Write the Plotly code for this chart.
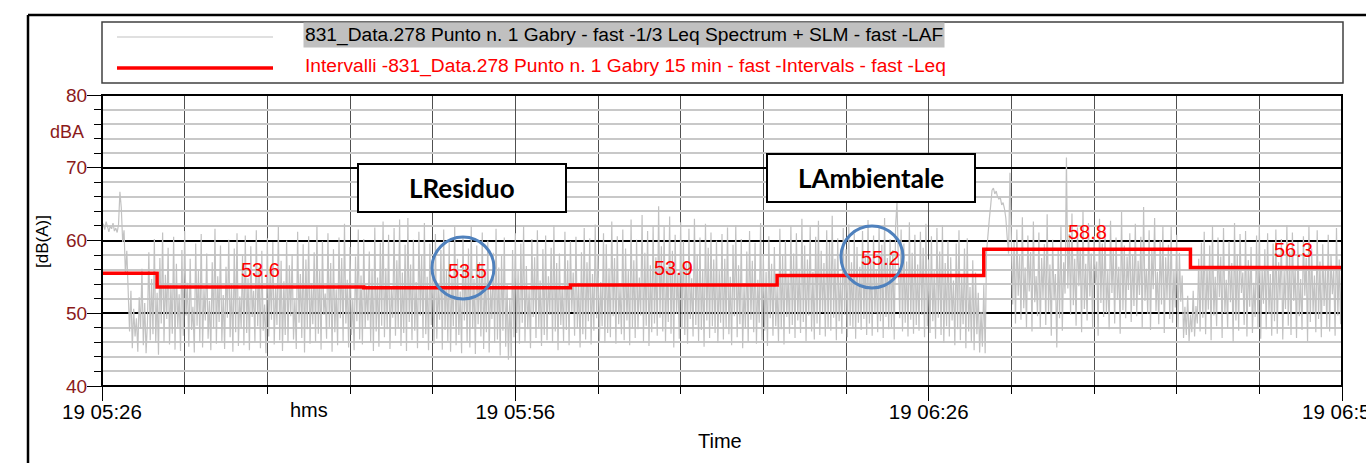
import plotly.graph_objects as go
from datetime import datetime, timedelta

# ---------------- data ----------------
DAY = "2014-05-19"
t_start = datetime(2014, 5, 19, 5, 26, 0)
t_end = datetime(2014, 5, 19, 6, 56, 0)

# LAF trace (6 s sampling, read by eye, one list per 5-minute block)
laf_b01 = [61.8, 62.3, 61.5, 62.6, 61.9, 61.2, 62.0, 61.6, 62.4, 61.3, 61.7, 61.1, 62.2, 66.7, 64.5, 59.8, 61.4, 55.3, 58.6, 52.4,
           47.5, 53.1, 45.2, 50.6, 46.8, 49.3, 44.7, 52.2, 47.9, 56.1, 45.6, 51.4, 44.5, 48.8, 58.4, 46.3, 54.7, 47.1, 60.2, 45.9,
           52.8, 44.3, 57.6, 48.6, 61.1, 46.0, 55.3, 49.2, 59.0, 45.7]
laf_b02 = [53.9, 47.2, 60.5, 45.0, 56.8, 48.1, 52.6, 44.8, 58.7, 46.9, 61.3, 49.7, 54.2, 45.4, 57.5, 47.7, 50.9, 44.6, 59.6, 48.3,
           55.8, 46.1, 60.9, 45.3, 53.4, 49.0, 58.2, 46.5, 51.7, 44.9, 57.0, 47.9, 61.6, 45.8, 55.1, 48.8, 59.3, 46.2, 52.5, 45.1,
           56.4, 49.4, 60.1, 46.7, 54.0, 44.7, 58.9, 47.4, 61.0, 45.5]
laf_b03 = [52.3, 48.0, 57.9, 45.6, 60.7, 47.3, 54.8, 44.9, 59.2, 49.5, 53.1, 46.0, 61.4, 48.2, 56.3, 45.2, 58.6, 47.6, 51.2, 44.5,
           60.3, 46.8, 55.7, 49.1, 59.8, 45.7, 53.6, 48.4, 61.9, 46.3, 57.2, 44.8, 54.4, 47.0, 60.0, 45.9, 56.6, 49.6, 58.1, 46.4,
           52.0, 45.1, 61.2, 48.7, 55.4, 46.6, 59.5, 44.6, 57.4, 47.8]
laf_b04 = [60.6, 45.8, 54.1, 48.5, 58.4, 46.1, 62.1, 47.2, 55.9, 45.0, 59.9, 49.8, 52.7, 46.5, 61.0, 48.1, 56.9, 44.7, 58.8, 47.4,
           53.3, 45.6, 60.4, 49.3, 57.6, 46.2, 62.3, 48.6, 54.6, 45.3, 59.1, 47.0, 51.9, 44.9, 57.8, 48.9, 61.5, 46.4, 55.2, 45.7,
           60.2, 47.9, 53.8, 49.0, 58.5, 46.0, 56.1, 44.8, 61.8, 47.5]
laf_b05 = [54.9, 45.4, 59.7, 48.3, 62.6, 46.7, 56.2, 47.8, 60.8, 45.1, 53.5, 49.4, 61.7, 46.9, 57.3, 48.0, 62.9, 45.5, 55.6, 47.3,
           59.4, 44.8, 63.1, 48.8, 56.7, 46.3, 60.1, 47.6, 54.3, 45.2, 61.2, 49.7, 58.0, 46.6, 62.4, 47.1, 55.0, 44.9, 59.6, 48.4,
           57.1, 45.8, 60.9, 46.5, 53.9, 49.1, 58.7, 45.0, 61.5, 47.7]
laf_b06 = [56.0, 46.2, 59.8, 44.7, 55.2, 48.2, 61.9, 45.6, 57.5, 47.0, 53.0, 44.5, 60.6, 49.0, 56.8, 46.0, 58.9, 45.3, 62.0, 47.9,
           54.7, 44.4, 59.3, 48.5, 57.0, 46.8, 61.1, 45.1, 55.5, 47.4, 60.0, 44.6, 53.6, 49.2, 58.3, 45.9, 61.6, 46.4, 56.3, 44.2,
           57.9, 47.6, 60.4, 45.4, 54.0, 43.6, 52.1, 44.0, 58.7, 46.7]
laf_b07 = [61.0, 47.3, 55.8, 45.8, 59.6, 48.7, 62.0, 46.1, 56.5, 47.8, 53.4, 45.2, 60.2, 49.5, 57.7, 46.6, 61.4, 48.1, 54.5, 45.5,
           58.8, 47.0, 60.7, 46.3, 55.1, 49.8, 59.0, 45.9, 62.1, 47.5, 56.9, 44.9, 58.2, 48.4, 53.8, 46.2, 61.2, 47.7, 57.3, 45.6,
           59.9, 50.2, 55.6, 46.9, 60.5, 48.0, 54.2, 45.3, 58.4, 47.1]
laf_b08 = [61.7, 46.4, 57.0, 48.9, 60.3, 45.7, 55.4, 47.6, 62.2, 49.3, 58.1, 46.0, 54.3, 48.2, 61.0, 45.9, 59.5, 47.3, 56.2, 46.7,
           62.6, 49.6, 57.6, 45.8, 60.6, 48.5, 53.7, 47.1, 61.5, 46.3, 58.9, 49.0, 55.8, 45.6, 62.9, 48.0, 57.3, 46.6, 60.1, 47.8,
           54.9, 49.7, 63.5, 46.1, 58.3, 48.3, 61.3, 45.5, 56.6, 47.4]
laf_b09 = [62.0, 48.6, 57.7, 46.9, 64.7, 49.4, 59.2, 47.5, 61.9, 46.0, 56.4, 48.8, 63.3, 47.2, 58.6, 45.3, 60.8, 49.9, 55.5, 46.5,
           62.5, 48.1, 59.9, 47.0, 57.1, 45.8, 61.6, 49.2, 54.8, 46.8, 63.0, 48.4, 58.0, 46.2, 60.4, 47.7, 56.0, 45.4, 62.3, 49.0,
           59.0, 46.6, 61.1, 48.2, 57.4, 47.3, 60.0, 45.9, 55.9, 48.7]
laf_b10 = [60.9, 46.4, 57.5, 48.0, 61.8, 47.1, 55.0, 45.6, 59.4, 49.6, 62.1, 46.7, 56.6, 48.5, 60.2, 45.2, 53.9, 47.9, 58.5, 46.1,
           61.3, 49.1, 57.2, 47.4, 59.7, 45.8, 54.6, 48.7, 62.4, 46.3, 58.0, 47.6, 55.7, 45.5, 60.6, 49.3, 56.8, 46.9, 59.1, 48.2,
           53.6, 46.0, 61.6, 47.8, 57.9, 45.7, 60.0, 49.5, 55.3, 47.2]
laf_b11 = [62.0, 48.4, 58.2, 46.6, 61.0, 49.0, 56.1, 47.3, 63.0, 48.8, 59.3, 46.2, 57.4, 49.7, 61.9, 47.5, 55.7, 46.4, 60.5, 48.6,
           62.7, 47.0, 58.6, 50.1, 56.9, 46.8, 61.4, 48.1, 59.8, 47.6, 63.4, 49.4, 57.5, 46.3, 60.3, 48.9, 55.2, 47.2, 61.7, 49.8,
           58.8, 46.7, 62.2, 48.3, 57.0, 47.9, 60.9, 46.5, 59.1, 48.7]
laf_b12 = [56.4, 47.7, 61.3, 49.2, 58.1, 47.0, 62.8, 48.6, 57.3, 46.9, 60.7, 50.0, 55.9, 47.4, 61.9, 48.9, 59.4, 46.6, 63.1, 49.5,
           57.6, 47.8, 60.2, 48.1, 58.7, 46.4, 62.0, 65.3, 56.2, 49.3, 61.5, 47.5, 59.6, 48.7, 57.1, 46.8, 62.5, 49.1, 58.3, 47.2,
           60.8, 48.4, 56.7, 47.6, 61.2, 49.8, 59.0, 46.7, 62.3, 48.2]
laf_b13 = [57.4, 47.3, 60.6, 48.9, 55.8, 46.5, 61.7, 49.4, 58.5, 47.0, 62.1, 45.9, 56.9, 48.2, 60.0, 46.8, 57.7, 49.0, 54.5, 45.6,
           59.6, 47.8, 61.4, 46.3, 55.3, 48.5, 58.9, 45.2, 60.3, 47.5, 53.6, 46.1, 57.3, 44.9, 55.6, 47.1, 52.8, 44.6, 50.2, 45.4,
           53.9, 44.5, 58.4, 60.2, 62.9, 64.8, 66.9, 67.2, 66.4, 66.8]
laf_b14 = [66.0, 65.7, 65.9, 64.9, 65.2, 64.4, 63.1, 60.4, 58.2, 69.3, 62.0, 51.2, 59.8, 48.6, 61.5, 52.4, 57.9, 49.1, 63.2, 50.7,
           56.3, 48.0, 60.7, 53.0, 58.4, 47.5, 62.6, 51.5, 55.1, 49.6, 61.1, 47.9, 57.6, 52.1, 59.5, 48.4, 63.6, 50.2, 56.7, 46.9,
           60.1, 51.8, 55.4, 45.3, 58.9, 49.3, 62.1, 47.6, 57.0, 52.7]
laf_b15 = [71.4, 53.4, 60.9, 49.8, 63.7, 51.1, 57.5, 48.3, 61.8, 53.7, 59.0, 47.4, 64.2, 50.6, 56.8, 49.0, 62.4, 52.3, 58.2, 48.1,
           60.6, 54.1, 57.1, 46.9, 63.0, 51.4, 59.6, 49.5, 61.3, 50.0, 55.9, 47.8, 62.7, 52.8, 58.7, 48.6, 60.4, 51.9, 56.4, 47.2,
           63.9, 50.4, 59.3, 49.3, 57.8, 53.2, 61.0, 48.8, 58.0, 51.0]
laf_b16 = [62.3, 49.6, 57.2, 52.5, 60.5, 48.0, 64.6, 51.7, 56.1, 49.9, 61.4, 47.7, 58.6, 53.3, 63.1, 50.3, 55.7, 48.5, 60.0, 51.2,
           62.0, 47.3, 57.7, 52.0, 59.4, 49.2, 61.9, 48.7, 56.0, 50.8, 60.8, 47.9, 58.3, 51.6, 55.2, 46.6, 50.9, 47.0, 52.4, 46.2,
           49.8, 47.4, 53.1, 46.8, 51.0, 48.6, 57.5, 47.5, 59.7, 49.4]
laf_b17 = [61.2, 47.1, 56.5, 50.5, 59.3, 46.3, 62.0, 49.7, 55.0, 48.2, 60.4, 52.2, 57.8, 46.6, 61.7, 50.0, 54.6, 47.9, 59.9, 51.5,
           56.9, 46.0, 62.4, 49.0, 58.1, 47.6, 60.9, 52.8, 55.6, 48.4, 61.3, 46.8, 57.3, 50.9, 59.1, 47.3, 54.2, 49.5, 60.7, 48.0,
           62.2, 46.5, 56.2, 51.3, 58.8, 47.8, 61.0, 49.9, 55.4, 46.9]
laf_b18 = [59.6, 48.9, 61.5, 47.2, 57.0, 52.0, 60.2, 46.4, 55.8, 50.6, 62.1, 48.3, 58.5, 47.0, 61.1, 51.7, 56.3, 46.6, 59.8, 49.6,
           54.7, 47.7, 60.6, 52.4, 57.6, 46.1, 62.0, 48.8, 58.9, 50.1, 55.2, 47.4, 61.4, 49.2, 57.1, 46.7, 59.5, 51.0, 56.5, 48.1,
           60.8, 47.5, 58.1, 52.6, 55.9, 46.9, 61.7, 49.7, 57.4, 48.5, 58.6]

laf_values = (laf_b01 + laf_b02 + laf_b03 + laf_b04 + laf_b05 + laf_b06 + laf_b07 + laf_b08 + laf_b09
              + laf_b10 + laf_b11 + laf_b12 + laf_b13 + laf_b14 + laf_b15 + laf_b16 + laf_b17 + laf_b18)

# 15-minute Leq intervals
interval_starts = ["05:26:00", "05:30:00", "05:45:00", "06:00:00", "06:15:00", "06:30:00", "06:45:00"]
interval_leq = [55.5, 53.6, 53.5, 53.9, 55.2, 58.8, 56.3]
interval_labelled = [False, True, True, True, True, True, True]

x_tick_times = ["05:26:00", "05:56:00", "06:26:00", "06:56:00"]
x_tick_text = ["19 05:26", "19 05:56", "19 06:26", "19 06:56"]
y_tick_vals = [40, 50, 60, 70, 80]

legend_text_1 = "831_Data.278 Punto n. 1 Gabry - fast -1/3 Leq Spectrum + SLM - fast -LAF"
legend_text_2 = "Intervalli -831_Data.278 Punto n. 1 Gabry 15 min - fast -Intervals - fast -Leq"

# ---------------- geometry / style ----------------
W, H = 1366, 463
PL, PR, PT, PB = 102, 1342, 95, 386
FONT = "Liberation Sans, Arial, sans-serif"
DARKRED = "#8B1A1A"
GREY = "#c2c2c2"


def px(x):
    return (x - PL) / (PR - PL)


def py(y):
    return (PB - y) / (PB - PT)


def T(hms):
    return f"{DAY} {hms}"


n = len(laf_values)
dt = (t_end - t_start).total_seconds() / (n - 1)
laf_times = [t_start + timedelta(seconds=dt * i) for i in range(n)]

step_x = [T(s) for s in interval_starts] + [T("06:56:00")]
step_y = interval_leq + [interval_leq[-1]]

fig = go.Figure()
fig.add_trace(go.Scatter(x=laf_times, y=laf_values, mode="lines",
                         line=dict(color=GREY, width=1.2), name=legend_text_1,
                         hoverinfo="skip"))
fig.add_trace(go.Scatter(x=step_x, y=step_y, mode="lines", line_shape="hv",
                         line=dict(color="#ff0000", width=3.5), name=legend_text_2))

annotations = []
shapes = []

# interval value labels at interval midpoints
for s, v, lab in zip(interval_starts, interval_leq, interval_labelled):
    if not lab:
        continue
    mid = datetime.strptime(T(s), "%Y-%m-%d %H:%M:%S") + timedelta(minutes=7.5)
    annotations.append(dict(x=mid, y=v, xref="x", yref="y", text=f"{v}", showarrow=False,
                            yanchor="middle", xanchor="center", yshift=17,
                            font=dict(family=FONT, size=20, color="#ff0000")))

# outer frame
shapes.append(dict(type="line", xref="paper", yref="paper", x0=px(28), x1=px(1380), y0=py(15), y1=py(15),
                   line=dict(color="black", width=2.5)))
shapes.append(dict(type="line", xref="paper", yref="paper", x0=px(28), x1=px(28), y0=py(15), y1=py(470),
                   line=dict(color="black", width=2.5)))
# plot border
shapes.append(dict(type="rect", xref="paper", yref="paper", x0=0, x1=1, y0=0, y1=1,
                   line=dict(color="black", width=2), layer="above"))
# legend box
shapes.append(dict(type="rect", xref="paper", yref="paper", x0=px(102), x1=px(1343), y0=py(83), y1=py(22),
                   line=dict(color="#404040", width=1.5), fillcolor="white"))
shapes.append(dict(type="line", xref="paper", yref="paper", x0=px(117), x1=px(273), y0=py(37), y1=py(37),
                   line=dict(color=GREY, width=1.2)))
shapes.append(dict(type="line", xref="paper", yref="paper", x0=px(117), x1=px(273), y0=py(68), y1=py(68),
                   line=dict(color="#ff0000", width=3.5)))
annotations.append(dict(x=px(303), y=py(35), xref="paper", yref="paper", text=legend_text_1, showarrow=False,
                        xanchor="left", yanchor="middle", bgcolor="#c0c0c0", borderpad=1,
                        font=dict(family=FONT, size=19.2, color="black")))
annotations.append(dict(x=px(303), y=py(66), xref="paper", yref="paper", text=legend_text_2, showarrow=False,
                        xanchor="left", yanchor="middle",
                        font=dict(family=FONT, size=19.2, color="#ff0000")))

# labelled boxes
for (x0, x1, y0, y1, txt) in [(358, 566, 164, 212, "LResiduo"), (767, 975, 154, 202, "LAmbientale")]:
    shapes.append(dict(type="rect", xref="paper", yref="paper", x0=px(x0), x1=px(x1), y0=py(y1), y1=py(y0),
                       line=dict(color="black", width=2), fillcolor="white", layer="above"))
    annotations.append(dict(x=px((x0 + x1) / 2), y=py((y0 + y1) / 2), xref="paper", yref="paper",
                            text=f"<b>{txt}</b>", showarrow=False, xanchor="center", yanchor="middle",
                            font=dict(family="Lato, DejaVu Sans, sans-serif", size=26, color="black")))

# blue highlight circles
for cx, cy in [(463, 268), (872, 257)]:
    shapes.append(dict(type="circle", xref="paper", yref="paper", xsizemode="pixel", ysizemode="pixel",
                       xanchor=px(cx), yanchor=py(cy), x0=-31, x1=31, y0=-31, y1=31,
                       line=dict(color="#4F81BD", width=3), layer="above"))

# axis side texts
annotations.append(dict(x=px(86), y=py(132), xref="paper", yref="paper", text="dBA", showarrow=False,
                        xanchor="right", yanchor="middle", font=dict(family=FONT, size=18, color=DARKRED)))
annotations.append(dict(x=px(42), y=py(242), xref="paper", yref="paper", text="[dB(A)]", showarrow=False,
                        textangle=-90, xanchor="center", yanchor="middle",
                        font=dict(family=FONT, size=17, color="black")))
annotations.append(dict(x=px(309), y=py(410), xref="paper", yref="paper", text="hms", showarrow=False,
                        xanchor="center", yanchor="middle", font=dict(family=FONT, size=20, color="black")))
annotations.append(dict(x=px(720), y=py(441), xref="paper", yref="paper", text="Time", showarrow=False,
                        xanchor="center", yanchor="middle", font=dict(family=FONT, size=20, color="black")))

fig.update_layout(
    width=W, height=H,
    margin=dict(l=PL, r=W - PR, t=PT, b=H - PB, autoexpand=False),
    paper_bgcolor="white", plot_bgcolor="white", showlegend=False,
    xaxis=dict(type="date", range=[T("05:26:00"), T("06:56:00")],
               tickvals=[T(t) for t in x_tick_times], ticktext=x_tick_text,
               ticks="outside", ticklen=14, tickcolor="black", tickwidth=1,
               ticklabelstandoff=-7, ticklabeloverflow="allow",
               showgrid=True, gridcolor="#505050", gridwidth=1, zeroline=False, showline=False,
               tickfont=dict(family=FONT, size=20.5, color="black"),
               minor=dict(dtick=6 * 60 * 1000, tick0=T("05:26:00"), ticks="outside", ticklen=7,
                          tickcolor="black", showgrid=True, gridcolor="#505050", gridwidth=1)),
    yaxis=dict(range=[40, 80], tickvals=y_tick_vals, ticks="outside", ticklen=14, tickcolor="black",
               tickwidth=1, showgrid=True, gridcolor="black", gridwidth=1.5, zeroline=False, showline=False,
               ticklabelstandoff=-4,
               tickfont=dict(family=FONT, size=19, color=DARKRED),
               minor=dict(dtick=2, tick0=40, ticks="outside", ticklen=7, tickcolor="black",
                          showgrid=True, gridcolor="#c8c8c8", gridwidth=1.5)),
    annotations=annotations, shapes=shapes,
)

fig.write_html("out.html", config={"displayModeBar": False},
               post_script="document.body.style.margin='0';document.body.style.overflow='hidden';")
